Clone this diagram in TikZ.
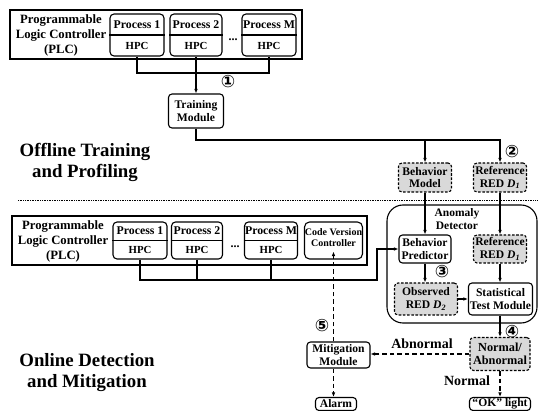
\documentclass[tikz,border=0pt]{standalone}
\usepackage{fontspec}
\setmainfont{Liberation Serif}
\newfontfamily\dejavu{DejaVu Sans}
\usetikzlibrary{arrows.meta,calc}

\newcommand{\mkproc}[6]{%
  \node[procbox, minimum width=#3pt, minimum height=#4pt] (#1) at (#2) {};
  \draw[thinln] (#1.west) -- (#1.east);
  \node[proctop] (#1t) at ($(#1.north)!0.5!(#1.center)$) {#5};
  \node[procbot] (#1b) at ($(#1.center)!0.5!(#1.south)$) {#6};
}

\begin{document}
\begin{tikzpicture}[x=1pt,y=-1pt,
  every node/.style={font=\bfseries, inner sep=0pt},
  thinln/.style={line width=1.1pt},
  arr/.style={thinln, -{Latex[length=4.5pt,width=3.6pt]}},
  darr/.style={arr, dash pattern=on 4.5pt off 3pt},
  box/.style={draw, line width=1.1pt, rounded corners=3.5pt, fill=white, align=center, font=\bfseries\fontsize{11.6}{12.8}\selectfont},
  dbox/.style={box, fill=black!15, dash pattern=on 2.6pt off 1.6pt},
  procbox/.style={draw, line width=1.1pt, rounded corners=4pt, fill=white},
  proctop/.style={font=\bfseries\fontsize{11.8}{12}\selectfont},
  procbot/.style={font=\bfseries\fontsize{10.8}{12}\selectfont},
  plc/.style={draw, line width=2.4pt},
  plctxt/.style={align=center, font=\bfseries\fontsize{12.7}{15}\selectfont},
  title/.style={align=center, font=\bfseries\fontsize{18.8}{21}\selectfont},
  lbl/.style={font=\bfseries\fontsize{14}{15}\selectfont},
  num/.style={font=\dejavu\bfseries\fontsize{17}{17}\selectfont},
  dotsty/.style={font=\bfseries\fontsize{12}{12}\selectfont},
  sep/.style={line width=0.8pt, dash pattern=on 0.8pt off 0.9pt}]
\useasboundingbox (0,0) rectangle (538,411);

% ---------- offline part ----------
\node[plc, minimum width=292pt, minimum height=49pt] (plcA) at (156,34.5) {};
\node[plctxt] (plcAt) at (61,35) {Programmable\\Logic Controller\\(PLC)};
\mkproc{pa1}{137,35}{54}{42}{Process 1}{HPC}
\mkproc{pa2}{196,35}{52}{42}{Process 2}{HPC}
\mkproc{paM}{269,35}{54}{42}{Process M}{HPC}
\node[dotsty] (dotsA) at (233,40) {...};

\node[box, minimum width=55pt, minimum height=34pt] (trn) at (196,111) {Training\\Module};
\node[num] (n1) at (228,82) {①};
\node[dbox, minimum width=53pt, minimum height=29pt] (bm) at (425,177.5) {Behavior\\Model};
\node[dbox, minimum width=53pt, minimum height=29pt] (ref1) at (500,177.5) {Reference\\RED \textit{D}\textsubscript{\textit{1}}};
\node[num] (n2) at (512,152) {②};
\node[title] (off) at (85,162) {Offline Training\\and Profiling};

\coordinate (jA) at (196,73);
\coordinate (rc) at (500,140);
\draw[thinln] (pa1.south) |- (jA) -| (paM.south);
\draw[arr] (pa2.south) -- (trn.north);
\draw[arr] (trn.south) |- (rc) -- (ref1.north);
\draw[arr] (bm.north |- rc) -- (bm.north);

\coordinate (sepL) at (18,200);
\coordinate (sepR) at (538,200);
\draw[sep] (sepL) -- (sepR);

% ---------- online part ----------
\node[plc, minimum width=355pt, minimum height=49pt] (plcB) at (189.5,240.5) {};
\node[plctxt] (plcBt) at (63,241) {Programmable\\Logic Controller\\(PLC)};
\mkproc{pb1}{140,240.5}{54}{37}{Process 1}{HPC}
\mkproc{pb2}{197,240.5}{51}{37}{Process 2}{HPC}
\mkproc{pbM}{271,240.5}{53}{37}{Process M}{HPC}
\node[dotsty] (dotsB) at (235,247) {...};
\node[procbox, minimum width=58pt, minimum height=37pt, rounded corners=5pt] (cvc) at (333.5,240.5) {};
\node[align=center, font=\bfseries\fontsize{10}{11.5}\selectfont] (cvct) at (333.5,237.5) {Code Version\\Controller};

\node[draw, line width=1.1pt, rounded corners=16pt, minimum width=150pt, minimum height=118pt] (det) at (462,264) {};
\node[align=center, font=\bfseries\fontsize{11.5}{13}\selectfont] (dett) at (457,219.5) {Anomaly\\Detector};
\node[box, minimum width=52pt, minimum height=28pt] (bp) at (425,249) {Behavior\\Predictor};
\node[dbox, minimum width=53pt, minimum height=28pt] (ref2) at (500,249) {Reference\\RED \textit{D}\textsubscript{\textit{1}}};
\node[dbox, minimum width=63pt, minimum height=32pt] (obs) at (426,299) {Observed\\RED \textit{D}\textsubscript{\textit{2}}};
\node[box, minimum width=64pt, minimum height=32pt] (stat) at (500.5,299) {Statistical\\Test Module};
\node[num] (n3) at (442,272) {③};

\node[dbox, minimum width=60pt, minimum height=33pt, font=\bfseries\fontsize{12.3}{13.5}\selectfont] (na) at (500,354) {Normal/\\Abnormal};
\node[num] (n4) at (512,332) {④};
\node[box, minimum width=63pt, minimum height=26pt] (mit) at (338.5,355) {Mitigation\\Module};
\node[num] (n5) at (322,326) {⑤};
\node[box, minimum width=41pt, minimum height=13pt] (alarm) at (336,404) {Alarm};
\node[box, minimum width=61pt, minimum height=13pt] (ok) at (500,404) {“OK” light};
\node[lbl] (lblA) at (422,344) {Abnormal};
\node[lbl] (lblN) at (467,381) {Normal};
\node[title] (on) at (87,372.5) {Online Detection\\and Mitigation};

\coordinate (jB) at (377,280);
\draw[arr] (pb1.south) |- (jB) |- (bp.west);
\draw[thinln] (pb2.south) -- (pb2.south |- jB);
\draw[thinln] (pbM.south) -- (pbM.south |- jB);

\draw[arr] (bm.south) -- (bp.north);
\draw[arr] (ref1.south) -- (ref2.north);
\draw[arr] (bp.south) -- (bp.south |- obs.north);
\draw[arr] (ref2.south) -- (ref2.south |- stat.north);
\draw[arr] (obs.east) -- (stat.west);
\draw[arr] (na.north |- stat.south) -- (na.north);
\draw[darr] (na.west) -- (na.west -| mit.east);
\draw[darr] (na.south) -- (ok.north);
\draw[darr] (cvc.south |- mit.north) -- ($(cvc.south)+(0,-8)$);
\draw[darr] (cvc.south |- mit.south) -- (cvc.south |- alarm.north);
\end{tikzpicture}
\end{document}
